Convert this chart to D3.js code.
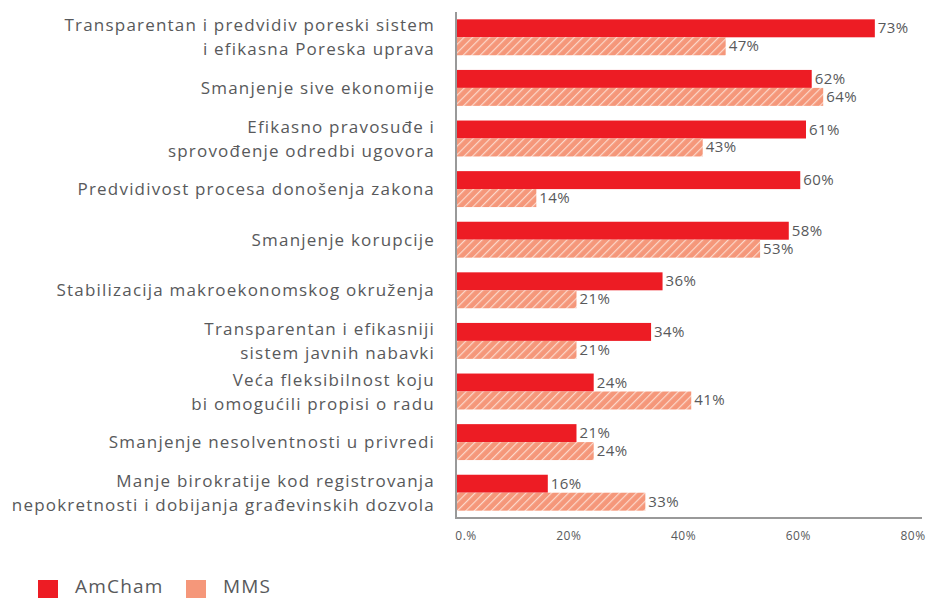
<!DOCTYPE html>
<html>
<head>
<meta charset="utf-8">
<script src="https://cdn.jsdelivr.net/npm/d3@7"></script>
<style>
  body { margin: 0; background: #fff; }
  text { font-family: "Open Sans", "Lato", sans-serif; }
</style>
</head>
<body>
<script>
// Data
var categories = [
  ["Transparentan i predvidiv poreski sistem", "i efikasna Poreska uprava"],
  ["Smanjenje sive ekonomije"],
  ["Efikasno pravosuđe i", "sprovođenje odredbi ugovora"],
  ["Predvidivost procesa donošenja zakona"],
  ["Smanjenje korupcije"],
  ["Stabilizacija makroekonomskog okruženja"],
  ["Transparentan i efikasniji", "sistem javnih nabavki"],
  ["Veća fleksibilnost koju", "bi omogućili propisi o radu"],
  ["Smanjenje nesolventnosti u privredi"],
  ["Manje birokratije kod registrovanja", "nepokretnosti i dobijanja građevinskih dozvola"]
];
var amcham = [73, 62, 61, 60, 58, 36, 34, 24, 21, 16];
var mms = [47, 64, 43, 14, 53, 21, 21, 41, 24, 33];
var tickValues = [0, 20, 40, 60, 80];
var tickLabels = ["0.%", "20%", "40%", "60%", "80%"];
var seriesNames = ["AmCham", "MMS"];

var red = "#ED1C24", salmon = "#F5977A", grey = "#58595B";

var svg = d3.select("body").append("svg")
    .attr("width", 929)
    .attr("height", 598);

// hatch pattern for MMS
var defs = svg.append("defs");
var pat = defs.append("pattern")
    .attr("id", "hatch")
    .attr("patternUnits", "userSpaceOnUse")
    .attr("width", 6)
    .attr("height", 6)
    .attr("patternTransform", "rotate(45)");
pat.append("rect").attr("width", 6).attr("height", 6).attr("fill", salmon);
pat.append("line")
    .attr("x1", 0).attr("y1", 0).attr("x2", 0).attr("y2", 6)
    .attr("stroke", "#fcd9cc").attr("stroke-width", 2.4);

var x = d3.scaleLinear().domain([0, 80]).range([456, 915]);
var y = d3.scaleBand().domain(d3.range(categories.length)).range([12, 518]).paddingInner(0.29).paddingOuter(0.145);
var bh = y.bandwidth() / 2;

var g = svg.append("g");

// AmCham bars
g.selectAll(".bar-a").data(amcham).enter().append("rect")
    .attr("x", x(0))
    .attr("y", function(d, i) { return y(i); })
    .attr("width", function(d) { return x(d) - x(0); })
    .attr("height", bh)
    .attr("fill", red);

// MMS bars
g.selectAll(".bar-m").data(mms).enter().append("rect")
    .attr("x", x(0))
    .attr("y", function(d, i) { return y(i) + bh; })
    .attr("width", function(d) { return x(d) - x(0); })
    .attr("height", bh)
    .attr("fill", "url(#hatch)");

// value labels
g.selectAll(".lab-a").data(amcham).enter().append("text")
    .attr("x", function(d) { return x(d) + 3; })
    .attr("y", function(d, i) { return y(i) + bh / 2 + 5; })
    .style("font-size", "15px")
    .style("letter-spacing", "0.4px")
    .attr("fill", grey)
    .text(function(d) { return d + "%"; });

g.selectAll(".lab-m").data(mms).enter().append("text")
    .attr("x", function(d) { return x(d) + 3; })
    .attr("y", function(d, i) { return y(i) + bh * 1.5 + 5; })
    .style("font-size", "15px")
    .style("letter-spacing", "0.4px")
    .attr("fill", grey)
    .text(function(d) { return d + "%"; });

// category labels
var cl = g.selectAll(".cat").data(categories).enter().append("text")
    .attr("text-anchor", "end")
    .style("font-size", "17px")
    .style("letter-spacing", "1.2px")
    .attr("fill", grey);
cl.each(function(lines, i) {
  var t = d3.select(this);
  var cy = y(i) + y.bandwidth() / 2;
  var y0 = cy - (lines.length - 1) * 12 + 6;
  lines.forEach(function(line, j) {
    t.append("tspan").attr("x", 435).attr("y", y0 + j * 24).text(line);
  });
});

// axes lines
svg.append("line")
    .attr("x1", x(0)).attr("x2", x(0)).attr("y1", 12).attr("y2", 519)
    .attr("stroke", "#999").attr("stroke-width", 2);
svg.append("line")
    .attr("x1", x(0) - 1).attr("x2", 922).attr("y1", 518).attr("y2", 518)
    .attr("stroke", "#999").attr("stroke-width", 2);

// tick labels
svg.selectAll(".tick-l").data(tickValues).enter().append("text")
    .attr("x", function(d) { return d === 0 ? x(d) + 10 : x(d) - 2; })
    .attr("y", 540)
    .attr("text-anchor", "middle")
    .style("font-size", "12px")
    .style("letter-spacing", "0.5px")
    .attr("fill", grey)
    .text(function(d, i) { return tickLabels[i]; });

// legend
var leg = svg.append("g");
var legX = [38, 186];
seriesNames.forEach(function(name, i) {
  leg.append("rect")
      .attr("x", legX[i]).attr("y", 580)
      .attr("width", 20).attr("height", 18)
      .attr("fill", i === 0 ? red : salmon);
  leg.append("text")
      .attr("x", legX[i] + 37).attr("y", 593)
      .style("font-size", "19px")
      .style("letter-spacing", "1.2px")
      .attr("fill", grey)
      .text(name);
});
</script>
</body>
</html>
